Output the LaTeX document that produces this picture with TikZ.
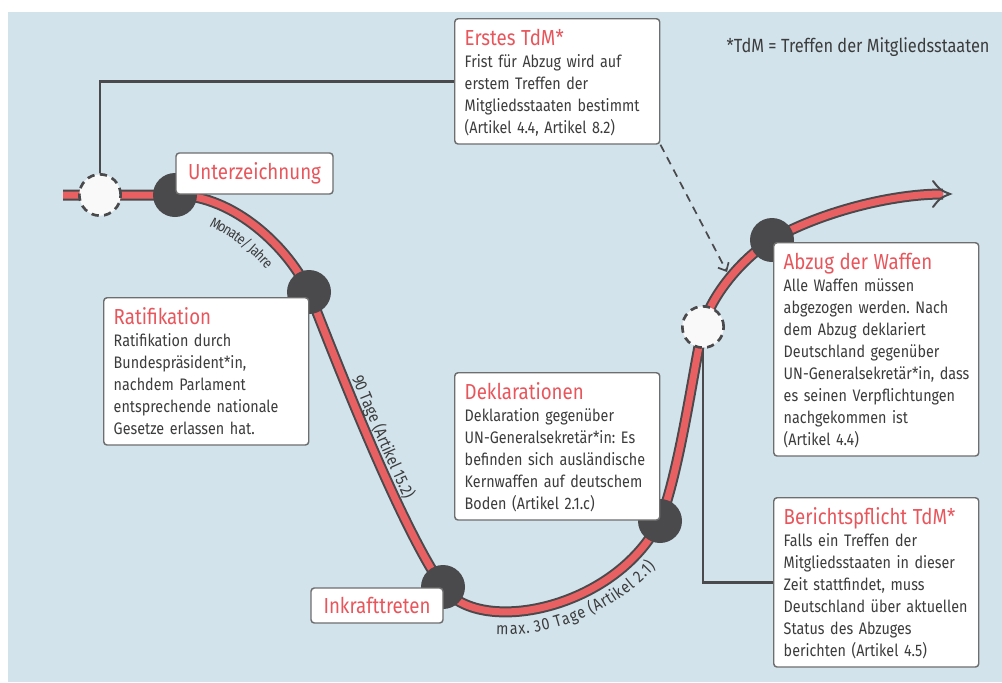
\documentclass[tikz,border=0pt]{standalone}
\usepackage{fontspec}
\setmainfont{Fira Sans}[FakeStretch=0.86]
\usetikzlibrary{arrows.meta,calc,decorations.text,backgrounds}
\frenchspacing

\definecolor{bgblue}{RGB}{210,227,236}
\definecolor{trackred}{RGB}{233,96,99}
\definecolor{darkgray}{RGB}{74,74,76}
\definecolor{titlered}{RGB}{232,86,92}
\definecolor{textgray}{RGB}{60,60,60}
\definecolor{boxborder}{RGB}{110,110,110}
\definecolor{dashfill}{RGB}{249,249,249}

\newcommand{\boxtitle}[1]{{\fontsize{16.3}{16.5}\selectfont\color{titlered}\rule{0pt}{17pt}#1}}
\newcommand{\infotext}[2]{\begin{tabular}{@{}l@{}}\boxtitle{#1}\\#2\end{tabular}}
\newcommand{\trackfont}{\fontsize{12.5}{13}\selectfont}

\begin{document}
\begin{tikzpicture}[x=0.75pt,y=-0.75pt,
  station/.style={circle,fill=darkgray,inner sep=0pt,minimum size=33pt},
  openstation/.style={circle,fill=dashfill,draw=darkgray,line width=2pt,dash pattern=on 5.5pt off 4pt,inner sep=0pt,minimum size=31pt},
  infobox/.style={draw=boxborder,line width=1.1pt,fill=white,rounded corners=2.5pt,anchor=north west,align=left,text width=138.75pt,inner xsep=7.5pt,inner ysep=3pt,font=\fontsize{12.5}{16.5}\selectfont,text=textgray},
  titlebox/.style={draw=boxborder,line width=1.1pt,fill=white,rounded corners=2.5pt,inner sep=0pt,font=\fontsize{16.3}{18}\selectfont,text=titlered},
  connector/.style={darkgray,line width=2pt},
  track/.style={draw=darkgray,line width=1.5pt,double=trackred,double distance=5.25pt}]
% =============================================
\useasboundingbox (0,0) rectangle (1002,682);
%
% - stations on the track.
\coordinate (anfang) at (63,195);
\coordinate (ende) at (943,194);
\node[openstation] (treffen) at (100,195) {};
\node[station] (unterz) at (175,195) {};
\node[station] (ratif) at (309,292) {};
\node[station] (inkraft) at (443,587) {};
\node[station] (dekl) at (660,521) {};
\node[openstation] (frist) at (703,327) {};
\node[station] (abzug) at (772,240) {};
%
% - boxes.
\node[titlebox,minimum width=117.75pt,minimum height=30.75pt] (unterzbox) at (254.5,173.5) {Unterzeichnung};
\node[titlebox,minimum width=99pt,minimum height=26.25pt] (inkraftbox) at (377,605.5) {Inkrafttreten};
\node[infobox] (erstesbox) at (454,18) {\infotext{Erstes TdM*}{Frist für Abzug wird auf\\erstem Treffen der\\Mitgliedsstaaten bestimmt\\(Artikel 4.4, Artikel 8.2)}};
\node[infobox] (ratifbox) at (103,297) {\infotext{Ratifikation}{Ratifikation durch\\Bundespräsident*in,\\nachdem Parlament\\entsprechende nationale\\Gesetze erlassen hat.}};
\node[infobox] (deklbox) at (454,372) {\infotext{Deklarationen}{Deklaration gegenüber\\UN-Generalsekretär*in: Es\\befinden sich ausländische\\Kernwaffen auf deutschem\\Boden (Artikel 2.1.c)}};
\node[infobox] (abzugbox) at (773,242) {\infotext{Abzug der Waffen}{Alle Waffen müssen\\abgezogen werden. Nach\\dem Abzug deklariert\\Deutschland gegenüber\\UN-Generalsekretär*in, dass\\es seinen Verpflichtungen\\nachgekommen ist\\(Artikel 4.4)}};
\node[infobox] (berichtbox) at (773,497) {\infotext{Berichtspflicht TdM*}{Falls ein Treffen der\\Mitgliedsstaaten in dieser\\Zeit stattfindet, muss\\Deutschland über aktuellen\\Status des Abzuges\\berichten (Artikel 4.5)}};
\node[anchor=west,text=textgray,font=\fontsize{14.3}{16}\selectfont] (legende) at (722,47) {*TdM = Treffen der Mitgliedsstaaten};
%
% - background, connectors and track.
\begin{scope}[on background layer]
\fill[bgblue] (8,12) rectangle (1002,682);
\draw[connector] (treffen.north) |- (erstesbox.west);
\draw[connector] (frist.south) |- (berichtbox.west);
\draw[track] (anfang) -- (treffen.center) -- (unterz.center)
  .. controls (235,195) and (290,250) .. (ratif.center)
  .. controls (330,345) and (398,523) .. (inkraft.center)
  .. controls (478,637) and (615,610) .. (dekl.center)
  .. controls (680,470) and (694,365) .. (frist.center)
  .. controls (710,297) and (742,258) .. (abzug.center)
  .. controls (812,216) and (885,194) .. (ende);
\draw[darkgray,line width=1.5pt,line cap=round] ($(ende)+(-10,-13)$) .. controls ($(ende)+(-3,-4)$) .. ($(ende)+(7,0)$) .. controls ($(ende)+(-3,4)$) .. ($(ende)+(-10,13)$);
\end{scope}
%
% - dashed arrow from the first meeting.
\coordinate (pfeilziel) at (727,272);
\draw[darkgray,line width=1.3pt,dash pattern=on 6pt off 4.5pt,-{Straight Barb[length=5pt,width=9pt]}] (erstesbox.south east) -- (pfeilziel);
%
% - durations along the track.
\path[decorate,decoration={text along path,text={|\fontsize{11}{12}\selectfont|Monate/ Jahre},text color=textgray,text align=center,raise=-18pt}] (unterz.center) .. controls (235,195) and (290,250) .. (ratif.center);
\path[decorate,decoration={text along path,text={|\trackfont|90 Tage (Artikel 15.2)},text color=textgray,text align=center,raise=6pt}] (ratif.center) .. controls (330,345) and (398,523) .. (inkraft.center);
\path[decorate,decoration={text along path,text={|\trackfont|max. 30 Tage (Artikel 2.1)},text color=textgray,text align={center,left indent=18pt},raise=-17pt}] (inkraft.center) .. controls (478,637) and (615,610) .. (dekl.center);
% =============================================
\end{tikzpicture}
\end{document}
